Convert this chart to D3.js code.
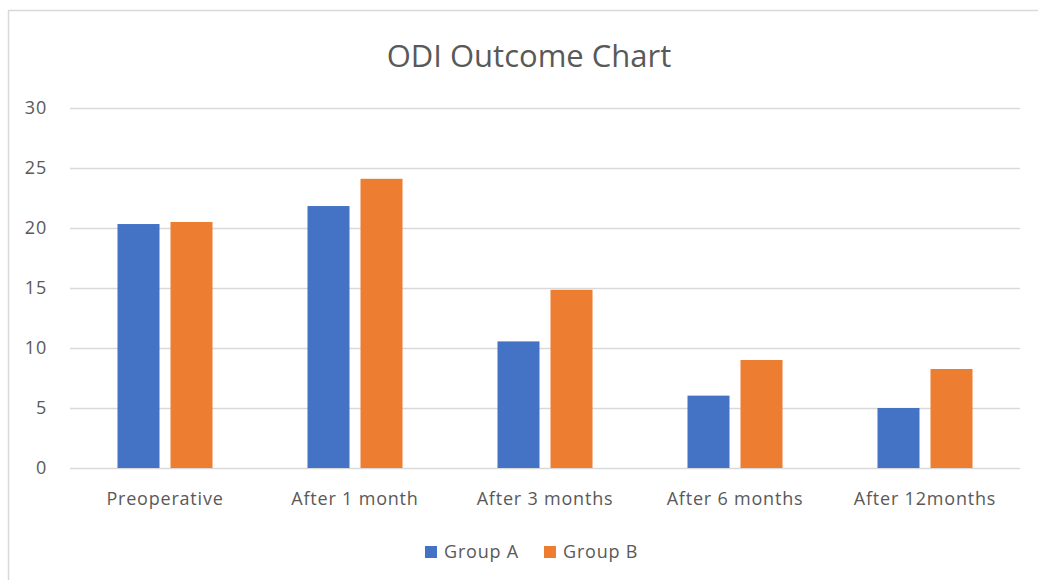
<!DOCTYPE html>
<head>
    <meta charset="utf-8">
    <title>ODI Outcome Chart</title>
</head>

<script src="https://d3js.org/d3.v7.min.js"></script>

<div id="graph"></div>

<script>
    // data
    var categories = ["Preoperative", "After 1 month", "After 3 months", "After 6 months", "After 12months"];
    var seriesNames = ["Group A", "Group B"];
    var groupA = [20.33, 21.83, 10.55, 6.03, 5.0];
    var groupB = [20.5, 24.1, 14.85, 9.0, 8.25];
    var yTicks = [0, 5, 10, 15, 20, 25, 30];

    var colors = {"Group A": "#4472c4", "Group B": "#ed7d31"};
    var textColor = "#595959";
    var gridColor = "#d9d9d9";
    var fontStack = "'Open Sans', 'Noto Sans', sans-serif";

    var W = 1038, H = 580;
    var margin = {top: 108, right: 18, bottom: 112, left: 70},
        width = W - margin.left - margin.right,
        height = H - margin.top - margin.bottom;

    var rows = categories.map(function(c, i) {
        return {cat: c, values: [
            {key: "Group A", value: groupA[i]},
            {key: "Group B", value: groupB[i]}
        ]};
    });

    var svg = d3.select("#graph")
        .append("svg")
            .attr("width", W)
            .attr("height", H);

    // chart area border (only top / left visible in the picture)
    svg.append("rect")
        .attr("x", 8.5).attr("y", 10.5)
        .attr("width", W + 20).attr("height", H + 20)
        .attr("fill", "white")
        .attr("stroke", gridColor)
        .attr("stroke-width", 1.5);

    svg.append("text")
        .attr("x", 529).attr("y", 67)
        .attr("text-anchor", "middle")
        .style("font-family", fontStack)
        .style("font-size", "31px")
        .attr("fill", textColor)
        .text("ODI Outcome Chart");

    var g = svg.append("g")
        .attr("transform", "translate(" + margin.left + "," + margin.top + ")");

    var y = d3.scaleLinear()
        .domain([0, 30])
        .range([height, 0]);

    var x0 = d3.scaleBand()
        .domain(categories)
        .range([0, width])
        .padding(0);

    var x1 = d3.scaleBand()
        .domain(seriesNames)
        .range([0, x0.bandwidth()])
        .paddingInner(0.2075)
        .paddingOuter(0.896);

    // gridlines + y labels
    var yAxis = d3.axisLeft(y)
        .tickValues(yTicks)
        .tickSize(-width)
        .tickPadding(23);

    g.append("g")
        .call(yAxis)
        .call(function(s) {
            s.select(".domain").remove();
            s.selectAll(".tick line").attr("stroke", gridColor).attr("stroke-width", 1.5);
            s.selectAll(".tick text")
                .attr("fill", textColor)
                .style("font-family", fontStack)
                .style("font-size", "18px")
                .style("letter-spacing", "0.8px");
        });

    var xAxis = d3.axisBottom(x0).tickSize(0).tickPadding(24);

    g.append("g")
        .attr("transform", "translate(0," + height + ")")
        .call(xAxis)
        .call(function(s) {
            s.select(".domain").remove();
            s.selectAll(".tick text")
                .attr("fill", textColor)
                .style("font-family", fontStack)
                .style("font-size", "18px")
                .style("letter-spacing", "0.8px");
        });

    var groups = g.selectAll(".grp")
        .data(rows)
        .enter()
        .append("g")
            .attr("class", "grp")
            .attr("transform", function(d) { return "translate(" + x0(d.cat) + ",0)"; });

    groups.selectAll("rect")
        .data(function(d) { return d.values; })
        .enter()
        .append("rect")
            .attr("x", function(d) { return x1(d.key); })
            .attr("y", function(d) { return y(d.value); })
            .attr("width", x1.bandwidth())
            .attr("height", function(d) { return height - y(d.value); })
            .attr("fill", function(d) { return colors[d.key]; });

    // legend
    var legend = svg.append("g").attr("transform", "translate(425,552)");
    var legendX = [0, 119];
    seriesNames.forEach(function(name, i) {
        legend.append("rect")
            .attr("x", legendX[i]).attr("y", -6)
            .attr("width", 12).attr("height", 12)
            .attr("fill", colors[name]);
        legend.append("text")
            .attr("x", legendX[i] + 19).attr("y", 0)
            .attr("dy", "0.35em")
            .style("font-family", fontStack)
            .style("font-size", "18px")
            .style("letter-spacing", "0.8px")
            .attr("fill", textColor)
            .text(name);
    });
</script>

<style>
    html, body { margin: 0; padding: 0; background: white; overflow: hidden; }
</style>
